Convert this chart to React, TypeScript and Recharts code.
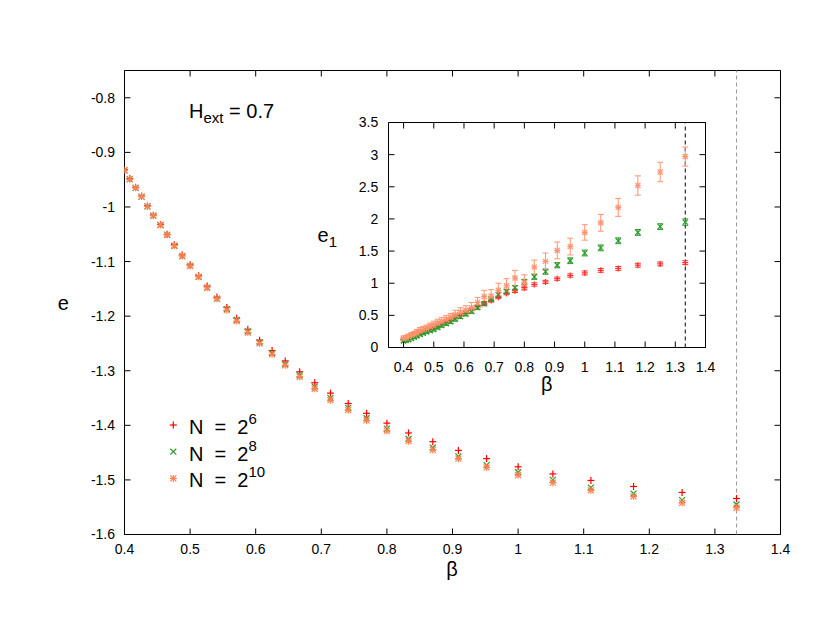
import React from "react";
import {
  ScatterChart,
  Scatter,
  XAxis,
  YAxis,
  ReferenceLine,
  ReferenceArea,
  ErrorBar,
} from "recharts";

// inverse temperatures (T = 2.5 ... 0.75)
const beta = [
  0.4, 0.408, 0.417, 0.426, 0.435, 0.444, 0.455, 0.465, 0.476, 0.488, 0.5, 0.513,
  0.526, 0.541, 0.556, 0.571, 0.588, 0.606, 0.625, 0.645, 0.667, 0.69, 0.714, 0.741,
  0.769, 0.8, 0.833, 0.87, 0.909, 0.952, 1.0, 1.053, 1.111, 1.176, 1.25, 1.333,
];

// energy per spin, main panel
const eN6 = [
  -0.932, -0.948, -0.964, -0.98, -0.998, -1.015, -1.032, -1.05, -1.069, -1.088, -1.106, -1.126,
  -1.145, -1.165, -1.184, -1.204, -1.224, -1.244, -1.263, -1.282, -1.302, -1.322, -1.341, -1.36,
  -1.378, -1.396, -1.414, -1.43, -1.446, -1.461, -1.476, -1.489, -1.501, -1.512, -1.523, -1.534,
];
const eN8 = [
  -0.933, -0.949, -0.965, -0.981, -0.999, -1.016, -1.033, -1.051, -1.071, -1.09, -1.108, -1.128,
  -1.148, -1.168, -1.187, -1.207, -1.228, -1.248, -1.268, -1.288, -1.308, -1.329, -1.35, -1.368,
  -1.387, -1.406, -1.425, -1.441, -1.457, -1.473, -1.486, -1.5, -1.514, -1.525, -1.537, -1.545,
];
const eN10 = [
  -0.933, -0.949, -0.965, -0.981, -0.999, -1.016, -1.033, -1.051, -1.071, -1.09, -1.108, -1.128,
  -1.148, -1.168, -1.189, -1.209, -1.23, -1.25, -1.27, -1.29, -1.311, -1.333, -1.354, -1.372,
  -1.391, -1.41, -1.429, -1.445, -1.461, -1.477, -1.491, -1.505, -1.519, -1.53, -1.542, -1.551,
];

// inset: e1 with errors
const e1N6 = [
  0.13, 0.14, 0.16, 0.18, 0.2, 0.22, 0.24, 0.26, 0.28, 0.3, 0.32, 0.35,
  0.38, 0.41, 0.44, 0.48, 0.51, 0.55, 0.59, 0.64, 0.69, 0.73, 0.78, 0.84,
  0.88, 0.93, 0.98, 1.02, 1.07, 1.12, 1.16, 1.2, 1.23, 1.28, 1.3, 1.32,
];
const e1N6Err = [
  0.02, 0.02, 0.02, 0.02, 0.02, 0.02, 0.02, 0.02, 0.02, 0.02, 0.02, 0.02,
  0.02, 0.02, 0.02, 0.02, 0.02, 0.02, 0.02, 0.02, 0.02, 0.02, 0.02, 0.02,
  0.025, 0.025, 0.025, 0.025, 0.025, 0.025, 0.03, 0.03, 0.03, 0.03, 0.03, 0.03,
];
const e1N8 = [
  0.1, 0.11, 0.12, 0.14, 0.16, 0.18, 0.2, 0.22, 0.24, 0.26, 0.28, 0.31,
  0.34, 0.37, 0.4, 0.44, 0.48, 0.52, 0.56, 0.62, 0.68, 0.75, 0.82, 0.87,
  0.93, 1.02, 1.1, 1.18, 1.28, 1.35, 1.47, 1.55, 1.66, 1.79, 1.88, 1.95,
];
const e1N8Err = [
  0.02, 0.02, 0.02, 0.02, 0.02, 0.02, 0.02, 0.02, 0.02, 0.02, 0.025, 0.025,
  0.025, 0.025, 0.025, 0.03, 0.03, 0.03, 0.03, 0.03, 0.03, 0.035, 0.035, 0.035,
  0.035, 0.04, 0.04, 0.04, 0.04, 0.045, 0.045, 0.045, 0.045, 0.045, 0.045, 0.05,
];
const e1N10 = [
  0.14, 0.15, 0.17, 0.19, 0.21, 0.23, 0.26, 0.28, 0.3, 0.33, 0.35, 0.38,
  0.41, 0.44, 0.47, 0.51, 0.55, 0.58, 0.62, 0.7, 0.79, 0.8, 0.89, 0.96,
  1.08, 1.01, 1.25, 1.34, 1.51, 1.57, 1.79, 1.94, 2.18, 2.52, 2.73, 2.97,
];
const e1N10Err = [
  0.04, 0.04, 0.04, 0.04, 0.04, 0.05, 0.05, 0.05, 0.05, 0.05, 0.06, 0.06,
  0.06, 0.06, 0.06, 0.07, 0.07, 0.07, 0.08, 0.08, 0.1, 0.1, 0.11, 0.11,
  0.12, 0.12, 0.11, 0.13, 0.13, 0.13, 0.12, 0.13, 0.14, 0.15, 0.15, 0.15,
];

const betaC = 1.333;

const mainXDomain = [0.4, 1.4];
const mainYDomain = [-1.6, -0.75];
const insetXDomain = [0.35, 1.4];
const insetYDomain = [0, 3.5];
const mainXTicks = [0.4, 0.5, 0.6, 0.7, 0.8, 0.9, 1, 1.1, 1.2, 1.3, 1.4];
const mainYTicks = [-1.6, -1.5, -1.4, -1.3, -1.2, -1.1, -1, -0.9, -0.8];
const insetXTicks = [0.4, 0.5, 0.6, 0.7, 0.8, 0.9, 1, 1.1, 1.2, 1.3, 1.4];
const insetYTicks = [0, 0.5, 1, 1.5, 2, 2.5, 3, 3.5];

const seriesNames = ["N = 2^6", "N = 2^8", "N = 2^10"];
const seriesExp = ["6", "8", "10"];
const seriesColors = ["#ff0000", "#2a9a2a", "#ff7f50"];
const insetColors = ["#ff3030", "#2a9a2a", "#ff9470"];

const FONT = "'Liberation Sans', Arial, Helvetica, sans-serif";
const tickStyle = { fill: "#000", fontSize: 14, fontFamily: FONT };
const TICK_PX = 6;

// chart boxes: page offset, size and margins; label axes add their size to the plot offset
const Y_AXIS_W = 60;
const X_AXIS_H = 30;
const MAIN = { left: 0, top: 0, w: 830, h: 642, m: { top: 70.5, right: 49.5, bottom: 77.5, left: 64.5 } };
const INSET = { left: 300, top: 100, w: 430, h: 300, m: { top: 22.5, right: 24.5, bottom: 22.5, left: 28.5 } };

const plotBox = (b: any) => ({
  x0: b.left + b.m.left + Y_AXIS_W,
  x1: b.left + b.w - b.m.right,
  y0: b.top + b.m.top,
  y1: b.top + b.h - b.m.bottom - X_AXIS_H,
});

const toPts = (ys: number[], errs?: number[]) =>
  beta.map((b, i) => ({ x: b, y: ys[i], err: errs ? errs[i] : 0 }));

const Marker = ({ kind, cx, cy, color, r = 3.5 }: any) => {
  const d = r * 0.85;
  return (
    <g stroke={color} strokeWidth={1.2} fill="none">
      {(kind === 0 || kind === 2) && (
        <>
          <line x1={cx - r} y1={cy} x2={cx + r} y2={cy} />
          <line x1={cx} y1={cy - r} x2={cx} y2={cy + r} />
        </>
      )}
      {(kind === 1 || kind === 2) && (
        <>
          <line x1={cx - d} y1={cy - d} x2={cx + d} y2={cy + d} />
          <line x1={cx - d} y1={cy + d} x2={cx + d} y2={cy - d} />
        </>
      )}
    </g>
  );
};

const shapeFor = (kind: number, color: string, r?: number) => (p: any) =>
  <Marker kind={kind} cx={p.cx} cy={p.cy} color={color} r={r} />;

const axes = (xd: number[], yd: number[], xt: number[], yt: number[], xm: number, ym: number) => [
  <XAxis key="xa" xAxisId="x" type="number" dataKey="x" domain={xd} ticks={xt} height={X_AXIS_H}
    axisLine={false} tickLine={false} tickSize={0} tickMargin={xm} tick={tickStyle}
    interval={0} allowDataOverflow />,
  <YAxis key="ya" yAxisId="y" type="number" dataKey="y" domain={yd} ticks={yt} width={Y_AXIS_W}
    axisLine={false} tickLine={false} tickSize={0} tickMargin={ym} tick={tickStyle}
    interval={0} allowDataOverflow />,
  <ReferenceArea key="box" xAxisId="x" yAxisId="y" x1={xd[0]} x2={xd[1]} y1={yd[0]} y2={yd[1]}
    fill="none" fillOpacity={0} stroke="#000" strokeWidth={1} ifOverflow="visible" />,
];

const MainChart = () => (
  <ScatterChart width={MAIN.w} height={MAIN.h} margin={MAIN.m}>
    {axes(mainXDomain, mainYDomain, mainXTicks, mainYTicks, 9.5, 9.5)}
    <ReferenceLine xAxisId="x" yAxisId="y" x={betaC} stroke="#999" strokeDasharray="4 3" />
    {[eN6, eN8, eN10].map((ys, i) => (
      <Scatter
        key={i}
        xAxisId="x"
        yAxisId="y"
        name={seriesNames[i]}
        data={toPts(ys)}
        fill={seriesColors[i]}
        shape={shapeFor(i, seriesColors[i])}
        isAnimationActive={false}
      />
    ))}
  </ScatterChart>
);

const insetSeries = [
  { ys: e1N6, errs: e1N6Err },
  { ys: e1N8, errs: e1N8Err },
  { ys: e1N10, errs: e1N10Err },
];

const InsetChart = () => (
  <ScatterChart width={INSET.w} height={INSET.h} margin={INSET.m}>
    {axes(insetXDomain, insetYDomain, insetXTicks, insetYTicks, 14.3, 10.2)}
    <ReferenceLine xAxisId="x" yAxisId="y" x={betaC} stroke="#000" strokeDasharray="4 3" />
    {insetSeries.map((s, i) => (
      <Scatter
        key={i}
        xAxisId="x"
        yAxisId="y"
        name={seriesNames[i]}
        data={toPts(s.ys, s.errs)}
        fill={insetColors[i]}
        shape={shapeFor(i, insetColors[i], 3)}
        isAnimationActive={false}
      >
        <ErrorBar dataKey="err" direction="y" width={3} stroke={insetColors[i]} strokeWidth={1} />
      </Scatter>
    ))}
  </ScatterChart>
);

// gnuplot-style inward tick marks on all four sides of a frame
const FrameTicks = ({ box, xd, yd, xt, yt }: any) => {
  const p = plotBox(box);
  const sx = (v: number) => p.x0 + ((v - xd[0]) / (xd[1] - xd[0])) * (p.x1 - p.x0);
  const sy = (v: number) => p.y1 - ((v - yd[0]) / (yd[1] - yd[0])) * (p.y1 - p.y0);
  return (
    <g stroke="#000" strokeWidth={1}>
      {xt.map((t: number) => (
        <g key={"x" + t}>
          <line x1={sx(t)} x2={sx(t)} y1={p.y1} y2={p.y1 - TICK_PX} />
          <line x1={sx(t)} x2={sx(t)} y1={p.y0} y2={p.y0 + TICK_PX} />
        </g>
      ))}
      {yt.map((t: number) => (
        <g key={"y" + t}>
          <line x1={p.x0} x2={p.x0 + TICK_PX} y1={sy(t)} y2={sy(t)} />
          <line x1={p.x1} x2={p.x1 - TICK_PX} y1={sy(t)} y2={sy(t)} />
        </g>
      ))}
    </g>
  );
};

const Labels = () => (
  <svg
    width={830}
    height={642}
    style={{ position: "absolute", left: 0, top: 0, pointerEvents: "none" }}
    fontFamily={FONT}
    fill="#000"
  >
    <FrameTicks box={MAIN} xd={mainXDomain} yd={mainYDomain} xt={mainXTicks} yt={mainYTicks} />
    <FrameTicks box={INSET} xd={insetXDomain} yd={insetYDomain} xt={insetXTicks} yt={insetYTicks} />
    <text x={189} y={118.3} fontSize={20}>
      H<tspan fontSize={15} dy={5}>ext</tspan>
      <tspan dy={-5}> = 0.7</tspan>
    </text>
    <text x={63.3} y={310} fontSize={20} textAnchor="middle">e</text>
    <text x={452} y={576} fontSize={20} textAnchor="middle">β</text>
    <text x={317.5} y={242.3} fontSize={20}>
      e<tspan fontSize={15} dy={4.4}>1</tspan>
    </text>
    <text x={546.7} y={391} fontSize={20} textAnchor="middle">β</text>
    {seriesNames.map((n, i) => (
      <g key={n}>
        <Marker kind={i} cx={173.3} cy={425 + i * 26.7} color={seriesColors[i]} />
        <text x={189} y={434 + i * 26.7} fontSize={20} style={{ whiteSpace: "pre" }}>
          {"N  =  2"}
          <tspan dy={-10} fontSize={15}>{seriesExp[i]}</tspan>
        </text>
      </g>
    ))}
  </svg>
);

export default function App() {
  return (
    <div style={{ position: "absolute", left: 0, top: 0, width: 830, height: 642, background: "#fff" }}>
      <MainChart />
      <div style={{ position: "absolute", left: INSET.left, top: INSET.top }}>
        <InsetChart />
      </div>
      <Labels />
    </div>
  );
}
